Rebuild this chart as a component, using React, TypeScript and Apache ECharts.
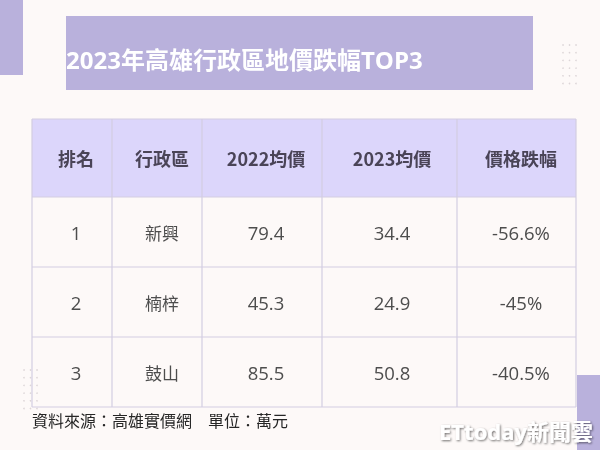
import React, { useEffect, useRef } from "react";
import * as echarts from "echarts";

const title = "2023年高雄行政區地價跌幅TOP3";
const headers = ["排名", "行政區", "2022均價", "2023均價", "價格跌幅"];
const ranks = ["1", "2", "3"];
const districts = ["新興", "楠梓", "鼓山"];
const price2022 = [79.4, 45.3, 85.5];
const price2023 = [34.4, 24.9, 50.8];
const changes = ["-56.6%", "-45%", "-40.5%"];
const footnote = "資料來源：高雄實價網\u3000單位：萬元";

const colX = [32, 112, 202, 322, 457, 576];
const textX = [76, 162, 266, 392, 521];
const rowY = [119, 197, 267, 337, 407];

const CJK = '"Noto Sans CJK TC", "Noto Sans", sans-serif';
const NUM = '"Open Sans", "Noto Sans CJK TC", sans-serif';

export default function App() {
  const ref = useRef<HTMLDivElement>(null);
  useEffect(() => {
    if (!ref.current) return;
    const chart = echarts.init(ref.current, undefined, { renderer: "svg" });
    const g: any[] = [];
    g.push({ type: "rect", shape: { x: 0, y: 0, width: 600, height: 450 }, style: { fill: "#fdf9f8" }, z: 0 });
    g.push({ type: "rect", shape: { x: 0, y: 0, width: 23, height: 75 }, style: { fill: "#b9b1dc" }, z: 1 });
    g.push({ type: "rect", shape: { x: 577, y: 375, width: 23, height: 75 }, style: { fill: "#b9b1dc" }, z: 1 });
    g.push({ type: "rect", shape: { x: 66, y: 16, width: 467, height: 74 }, style: { fill: "#b9b1dc" }, z: 1 });
    g.push({
      type: "text", x: 66, y: 59,
      style: { text: title, fill: "#ffffff", font: `bold 24px ${NUM}`, textVerticalAlign: "middle", textAlign: "left" },
      z: 2,
    });
    // dot grids
    for (let c = 0; c < 3; c++) {
      for (let r = 0; r < 6; r++) {
        g.push({ type: "circle", shape: { cx: 563 + c * 6.5, cy: 45 + r * 7.7, r: 0.8 }, style: { fill: "#ddd6d8" }, z: 1 });
        g.push({ type: "circle", shape: { cx: 24 + c * 6.5, cy: 370 + r * 7.7, r: 0.8 }, style: { fill: "#ddd6d8" }, z: 1 });
      }
    }
    // header fill
    g.push({ type: "rect", shape: { x: colX[0], y: rowY[0], width: colX[5] - colX[0], height: rowY[1] - rowY[0] }, style: { fill: "#dcd6fb" }, z: 2 });
    // grid lines
    rowY.forEach((y) => {
      g.push({ type: "line", shape: { x1: colX[0], y1: y, x2: colX[5], y2: y }, style: { stroke: "#d3cde2", lineWidth: 1.2 }, z: 3 });
    });
    colX.forEach((x) => {
      g.push({ type: "line", shape: { x1: x, y1: rowY[0], x2: x, y2: rowY[4] }, style: { stroke: "#d3cde2", lineWidth: 1.2 }, z: 3 });
    });
    headers.forEach((h, i) => {
      g.push({
        type: "text", x: textX[i], y: (rowY[0] + rowY[1]) / 2,
        style: { text: h, fill: "#4a4457", font: `bold 18px ${CJK}`, textAlign: "center", textVerticalAlign: "middle" },
        z: 4,
      });
    });
    ranks.forEach((rk, r) => {
      const cy = (rowY[r + 1] + rowY[r + 2]) / 2;
      const cells = [rk, districts[r], price2022[r].toFixed(1), price2023[r].toFixed(1), changes[r]];
      cells.forEach((t, i) => {
        g.push({
          type: "text", x: textX[i], y: cy,
          style: { text: t, fill: "#4d4d4d", font: i === 1 ? `17px ${CJK}` : `18.5px ${NUM}`, textAlign: "center", textVerticalAlign: "middle" },
          z: 4,
        });
      });
    });
    g.push({
      type: "text", x: 32, y: 420,
      style: { text: footnote, fill: "#262626", font: `16px ${CJK}`, textAlign: "left", textVerticalAlign: "middle" },
      z: 4,
    });
    g.push({
      type: "text", x: 593, y: 431,
      style: {
        text: "ETtoday新聞雲", fill: "#ffffff", font: `bold 22px ${NUM}`, textAlign: "right", textVerticalAlign: "middle",
        textShadowColor: "rgba(0,0,0,0.55)", textShadowBlur: 2, textShadowOffsetX: 1, textShadowOffsetY: 1,
      },
      z: 5,
    });
    chart.setOption({ animation: false, graphic: { elements: g } });
    return () => chart.dispose();
  }, []);
  return <div ref={ref} style={{ position: "fixed", left: 0, top: 0, width: 600, height: 450 }} />;
}
